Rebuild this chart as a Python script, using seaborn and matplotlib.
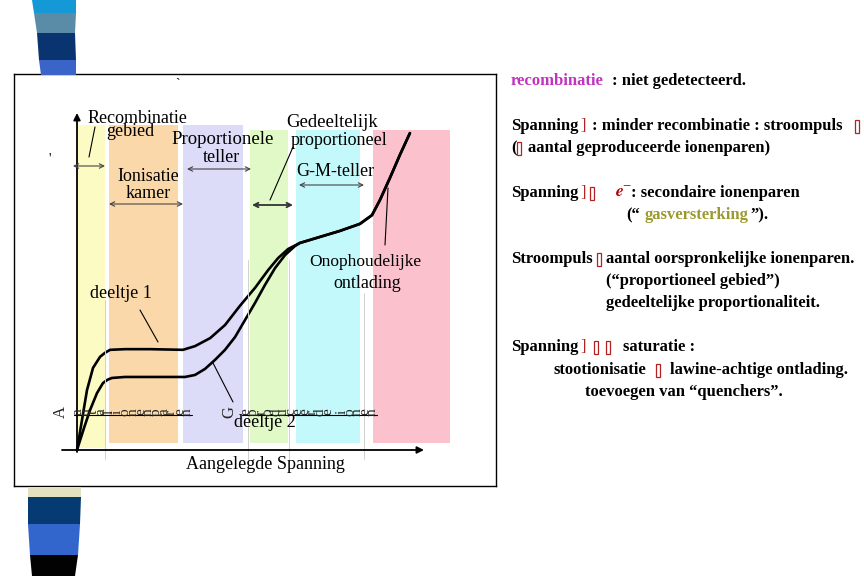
import matplotlib
matplotlib.use("Agg")
import matplotlib.pyplot as plt
import seaborn as sns
import pandas as pd
from matplotlib.patches import Polygon

# ---------------- data ----------------
# applied voltage (arbitrary units) and pulse height for two particles
V1 = [0, 1.45, 2.90, 4.64, 6.67, 8.1, 9.57, 13.9, 21.2, 30.7, 34.2, 38.6, 42.9, 47.2,
      51.6, 55.4, 58.3, 61.2, 64.6, 70.4, 76.2, 82.0, 85.5, 87.8, 90.7, 93.6, 96.5]
I1 = [0, 8.96, 17.9, 24.5, 27.8, 29.0, 29.9, 30.1, 30.1, 29.9, 31.0, 33.4, 37.3, 43.0,
      48.4, 53.7, 57.3, 60.0, 61.8, 63.6, 65.4, 67.5, 70.1, 74.6, 81.2, 88.1, 94.6]
V2 = [0, 2.03, 3.77, 5.80, 7.54, 8.9, 10.1, 13.9, 21.2, 31.3, 34.2, 37.1, 40.0, 42.9,
      45.8, 48.7, 51.6, 54.5, 57.4, 60.3, 63.2, 64.6, 70.4, 76.2, 82.0, 85.5,
      87.8, 90.7, 93.6, 96.5]
I2 = [0, 6.57, 11.9, 17.0, 20.0, 21.0, 21.5, 21.8, 21.8, 21.8, 22.4, 24.2, 26.9, 29.9,
      33.7, 38.8, 43.9, 49.3, 54.3, 58.2, 60.9, 61.8, 63.6, 65.4, 67.5, 70.1,
      74.6, 81.2, 88.1, 94.6]

# regions
band_names = ["Recombinatie", "Ionisatie", "Proportioneel", "Gedeeltelijk", "G-M", "Ontlading"]
band_start = [0, 9.3, 30.7, 50.1, 63.5, 85.8]
band_end = [8.1, 29.3, 48.1, 61.2, 82.0, 108.1]
band_top = [97.0, 97.0, 97.0, 95.5, 95.5, 95.5]
band_bottom = [0.6, 2.1, 2.1, 2.1, 2.1, 2.1]
band_colors = ["#FCFBC4", "#FBD8AA", "#DCDCF9", "#E0F9C6", "#C3F9FB", "#FBC1CD"]

# ---------------- style ----------------
sns.set_theme(style="white")
plt.rcParams["font.family"] = ["Liberation Serif", "DejaVu Serif"]
plt.rcParams["mathtext.fontset"] = "stix"

fig = plt.figure(figsize=(8.64, 5.76), dpi=100)
fig.patch.set_facecolor("white")

# chart axes (inside the framed box)
ax = fig.add_axes([14 / 864, 90 / 576, 482 / 864, 412 / 576], zorder=1)
ax.set_xlim((14 - 77) / 3.45, (496 - 77) / 3.45)
ax.set_ylim((450 - 486) / 3.35, (450 - 74) / 3.35)
ax.set_xticks([])
ax.set_yticks([])
for s in ax.spines.values():
    s.set_visible(True)
    s.set_color("black")
    s.set_linewidth(1.0)

hts = [t - b for t, b in zip(band_top, band_bottom)]
wds = [e - s for e, s in zip(band_end, band_start)]
ax.bar(band_start, hts, width=wds, bottom=band_bottom, align="edge",
       color=band_colors, linewidth=0, zorder=0)

df = pd.concat([
    pd.DataFrame({"V": V1, "I": I1, "deeltje": "deeltje 1"}),
    pd.DataFrame({"V": V2, "I": I2, "deeltje": "deeltje 2"}),
])
sns.lineplot(data=df, x="V", y="I", hue="deeltje", palette=["black", "black"],
             sort=False, estimator=None, units="deeltje", legend=False,
             linewidth=1.9, ax=ax, zorder=3)
ax.set_xlabel("")
ax.set_ylabel("")

# overlay in pixel coordinates
bg = fig.add_axes([0, 0, 1, 1], zorder=2)
bg.set_xlim(0, 864)
bg.set_ylim(576, 0)
bg.axis("off")
bg.patch.set_alpha(0)

# decorative bars left
top_bars = [
    ("#1499D6", [(32, 0), (76, 0), (76, 13), (34, 13)]),
    ("#5A8CA8", [(34, 13), (76, 13), (75, 33), (37, 33)]),
    ("#0A3470", [(37, 33), (75, 33), (76, 60), (39, 60)]),
    ("#3A64C8", [(39, 60), (76, 60), (76, 75), (41, 75)]),
]
bot_bars = [
    ("#E4E2BE", [(28, 487), (81, 487), (81, 497), (28, 497)]),
    ("#063A72", [(28, 497), (81, 497), (80, 524), (28, 524)]),
    ("#3266CC", [(28, 524), (80, 524), (78, 555), (30, 555)]),
    ("#020202", [(30, 555), (78, 555), (75, 576), (32, 576)]),
]
for c, pts in top_bars + bot_bars:
    bg.add_patch(Polygon(pts, closed=True, facecolor=c, edgecolor="none"))

# faint region guide lines
for gx, gy0 in [(105, 300), (248, 260), (289, 260), (364, 293)]:
    bg.plot([gx, gx], [gy0, 459], color="#d0d0d0", lw=0.7)

# axes arrows
arrow_kw = dict(arrowstyle="-|>", lw=1.3, color="black", mutation_scale=10,
                shrinkA=0, shrinkB=0)
bg.annotate("", xy=(77, 113), xytext=(77, 452), arrowprops=arrow_kw)
bg.annotate("", xy=(424, 450), xytext=(62, 450), arrowprops=arrow_kw)

# region double arrows
def darrow(x0, x1, y, lw=0.8, color="#444444"):
    bg.annotate("", xy=(x1, y), xytext=(x0, y),
                arrowprops=dict(arrowstyle="<->", lw=lw, color=color,
                                mutation_scale=8, shrinkA=0, shrinkB=0))

darrow(73, 105, 166)
darrow(109, 183, 204)
darrow(187, 251, 169)
darrow(252, 293, 205, lw=1.3, color="#333333")
darrow(299, 364, 185)

# pointer lines
for (x0, y0), (x1, y1) in [((95, 127), (89, 157)), ((140, 310), (158, 342)),
                           ((213, 363), (233, 402)), ((293, 147), (270, 200)),
                           ((388, 188), (385, 245))]:
    bg.plot([x0, x1], [y0, y1], color="black", lw=0.8)

def lab(x, y, s, size=13, ha="center"):
    bg.text(x, y, s, ha=ha, va="baseline", fontsize=size, color="black",
            family=["Liberation Serif", "DejaVu Serif"])

lab(137, 123, "Recombinatie", 13)
lab(130, 136, "gebied", 13)
lab(223, 144, "Proportionele", 13.5)
lab(221, 162, "teller", 13)
lab(148, 181, "Ionisatie", 13)
lab(148, 198, "kamer", 13)
lab(332, 127, "Gedeeltelijk", 13.5)
lab(339, 145, "proportioneel", 13)
lab(335, 176, "G-M-teller", 13)
lab(365, 266, "Onophoudelijke", 12.5)
lab(367, 288, "ontlading", 13)
lab(121, 298, "deeltje 1", 13)
lab(265, 427, "deeltje 2", 13)
lab(265, 469, "Aangelegde Spanning", 13)
lab(178, 88, "`", 10)
lab(50, 163, "'", 10)

# garbled rotated axis-label glyphs
def garbled(x0, y, first, rest, dx):
    bg.text(x0, y, first, rotation=90, ha="center", va="center", fontsize=12)
    for i, ch in enumerate(rest):
        if ch != " ":
            bg.text(x0 + 17 + i * dx, y, ch, rotation=90, ha="center",
                    va="center", fontsize=11)
    bg.plot([x0 + 13, x0 + 17 + (len(rest) - 1) * dx + 5], [y + 3, y + 3],
            color="black", lw=0.8)

garbled(61, 412, "A", "antalionenparen", 7.8)
garbled(229, 412, "G", "eproduceerde ionen", 7.4)

# ---------------- right-hand text ----------------
DR = "#B22222"
FS = 12

def seg(x, y, s, color="black", style="normal", weight="bold", size=FS,
        family=("Liberation Serif", "DejaVu Serif"), **kw):
    bg.text(x, y, s, ha="left", va="baseline", fontsize=size, color=color,
            fontweight=weight, fontstyle=style, family=list(family), **kw)

def box(x, y):
    # missing-glyph marker: a narrow outlined box
    seg(x, y, " ", size=10, weight="normal",
        bbox=dict(boxstyle="square,pad=0", facecolor="none", edgecolor=DR, linewidth=0.9))

def brk(x, y):
    seg(x, y, "]", color=DR, weight="normal", size=12)

seg(511, 85, "recombinatie", color="#C033C0")
seg(612, 85, ": niet gedetecteerd.")

seg(511, 130, "Spanning")
brk(580, 130)
seg(592, 130, ": minder recombinatie : stroompuls")
box(855, 130)

seg(511, 152, "(")
box(517, 152)
seg(528, 152, "aantal geproduceerde ionenparen)")

seg(511, 197, "Spanning")
brk(580, 197)
box(590, 197)
seg(615, 197, r"$\mathbfit{e}^{-}$", color="#B00000", weight="normal", size=12.5)
seg(631, 197, ": secondaire ionenparen")

seg(626, 219, "(\u201c")
seg(645, 219, "gasversterking", color="#9A9A2E")
seg(750, 219, "\u201d).")

seg(511, 263, "Stroompuls")
box(597, 263)
seg(606, 263, "aantal oorspronkelijke ionenparen.")
seg(606, 285, "(\u201cproportioneel gebied\u201d)")
seg(606, 307, "gedeeltelijke proportionaliteit.")

seg(511, 351, "Spanning")
brk(580, 351)
box(594, 351)
box(606, 351)
seg(623, 351, "saturatie :")
seg(553, 374, "stootionisatie")
box(656, 374)
seg(670, 374, "lawine-achtige ontlading.")
seg(585, 396, "toevoegen van \u201cquenchers\u201d.")

fig.savefig("out.png", dpi=100, facecolor="white")
